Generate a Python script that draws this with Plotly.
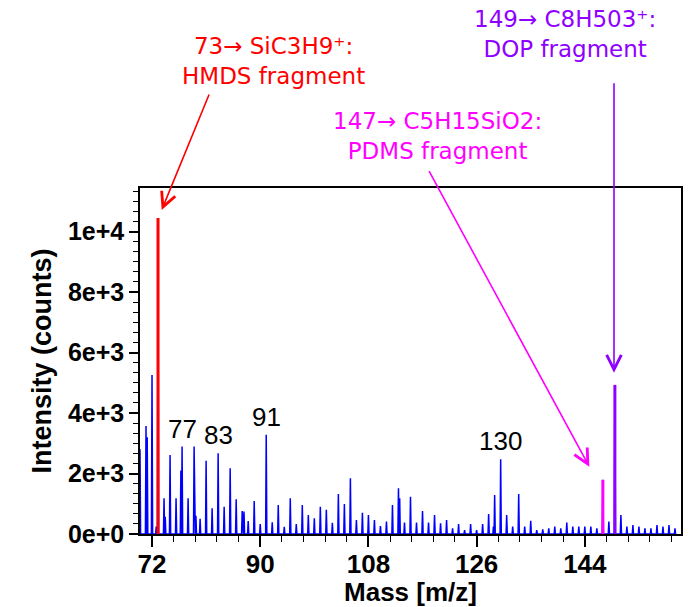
import plotly.graph_objects as go

# ---- data ----
masses = [70, 71, 72, 73, 74, 75, 76, 77, 78, 79, 80, 81, 82, 83, 84, 85, 86, 87, 88, 89,
          90, 91, 92, 93, 94, 95, 96, 97, 98, 99, 100, 101, 102, 103, 104, 105, 106, 107, 108, 109,
          110, 111, 112, 113, 114, 115, 116, 117, 118, 119, 120, 121, 122, 123, 124, 125, 126, 127, 128, 129,
          130, 131, 132, 133, 134, 135, 136, 137, 138, 139, 140, 141, 142, 143, 144, 145, 146, 147, 148, 149,
          150, 151, 152, 153, 154, 155, 156, 157, 158, 159]
intensity = [2800, 3570, 5260, 10450, 1180, 2610, 1180, 2890, 1180, 2890, 500, 2420, 850, 2670, 900, 2170, 1150, 760, 430, 1090,
             330, 3280, 390, 960, 240, 1180, 330, 960, 630, 520, 900, 800, 370, 1320, 990, 1840, 460, 700, 630, 460,
             265, 410, 960, 1510, 375, 1235, 375, 760, 375, 630, 350, 460, 190, 330, 130, 330, 130, 330, 660, 1290,
             2470, 630, 245, 1320, 245, 440, 130, 150, 190, 245, 190, 375, 245, 245, 245, 245, 190, 1790, 410, 4930,
             630, 245, 300, 245, 190, 190, 300, 245, 300, 190]
# secondary (shoulder) peaks
minor_masses = [71.2, 72.0, 72.7, 74.2, 76.8, 79.3, 87.3, 113.2, 128.8]
minor_intensity = [3200, 570, 250, 570, 2100, 600, 740, 1180, 250]

highlights = {73: ("#FF0000", "73\u2192 SiC3H9\u207a:<br>HMDS fragment"),
              147: ("#FF00FF", "147\u2192 C5H15SiO2:<br>PDMS fragment"),
              149: ("#8F00FF", "149\u2192 C8H503\u207a:<br>DOP fragment")}
labelled = [77, 83, 91, 130]

x_ticks = [72, 90, 108, 126, 144]
y_ticks = [0, 2000, 4000, 6000, 8000, 10000]

# ---- build stick spectrum ----
peaks = sorted(list(zip(masses, intensity)) + list(zip(minor_masses, minor_intensity)))
xs, ys = [], []
for m, h in peaks:
    xs += [m - 0.1, m, m + 0.1]
    ys += [0, h, 0]

fig = go.Figure()
fig.add_trace(go.Scatter(x=xs, y=ys, mode="lines", line=dict(color="#0000FF", width=1.5),
                         hoverinfo="skip", showlegend=False, cliponaxis=True))
inten = dict(zip(masses, intensity))
for m, (col, _) in highlights.items():
    fig.add_trace(go.Scatter(x=[m, m], y=[0, inten[m]], mode="lines",
                             line=dict(color=col, width=3), showlegend=False))

W, H = 689, 607
L, R, T, B = 140, 8, 188, 73
pw, ph = W - L - R, H - T - B


def px(xp):
    return (xp - L) / pw


def py(yp):
    return (H - B - yp) / ph


ann = []
# peak labels
for m in labelled:
    ann.append(dict(x=m, y=inten[m], xref="x", yref="y", text=str(m), showarrow=False,
                    yanchor="bottom", yshift=1, font=dict(family="Liberation Sans, Arial", size=26, color="black")))

txtfont = "DejaVu Sans"
# text blocks (pixel centres)
blocks = {73: (273, 61), 147: (437, 136), 149: (565, 34)}
for m, (col, txt) in highlights.items():
    cx, cy = blocks[m]
    ann.append(dict(x=px(cx), y=py(cy), xref="paper", yref="paper", text=txt, showarrow=False,
                    align="center", xanchor="center", yanchor="middle",
                    font=dict(family=txtfont, size=23, color=col)))

# arrows: head in pixel positions, tail offsets
arrows = [("#FF0000", (161.7, 210), (48, -117)),
          ("#FF00FF", (589.3, 466.7), (-161, -297)),
          ("#8F00FF", (614, 372.7), (0, -291))]
for col, (hx, hy), (ax, ay) in arrows:
    ann.append(dict(x=px(hx), y=py(hy), xref="paper", yref="paper", text="", showarrow=True,
                    ax=ax, ay=ay, axref="pixel", ayref="pixel", arrowhead=5, arrowsize=1.8,
                    arrowwidth=1.6, arrowcolor=col))

bold = dict(family="Liberation Sans, Arial", color="black", weight="bold")
fig.update_layout(
    width=W, height=H, margin=dict(l=L, r=R, t=T, b=B),
    plot_bgcolor="white", paper_bgcolor="white",
    annotations=ann,
    xaxis=dict(range=[70, 160], tickvals=x_ticks, ticks="outside", ticklen=11, tickwidth=1.5,
               tickcolor="black", showgrid=False, zeroline=False, showline=True, mirror=True,
               linecolor="black", linewidth=1.5, automargin=False, ticklabelstandoff=-5,
               tickfont=dict(size=26, **bold),
               minor=dict(tick0=72, dtick=3.6, ticks="outside", ticklen=6, tickwidth=1.2, tickcolor="black",
                          showgrid=False),
               title=dict(text="Mass [m/z]", standoff=2, font=dict(size=26, **bold))),
    yaxis=dict(range=[0, 11440], tickvals=y_ticks, tickformat=".0e", ticks="outside", ticklen=9,
               tickwidth=1.5, tickcolor="black", showgrid=False, zeroline=False, showline=True,
               mirror=True, linecolor="black", linewidth=1.5, automargin=False,
               tickfont=dict(size=25, **bold),
               minor=dict(tick0=0, dtick=2000 / 6, ticks="outside", ticklen=5, tickwidth=1.2,
                          tickcolor="black", showgrid=False),
               title=dict(text="Intensity (counts)", standoff=8, font=dict(size=27, **bold))),
)

fig.write_html("out.html")
